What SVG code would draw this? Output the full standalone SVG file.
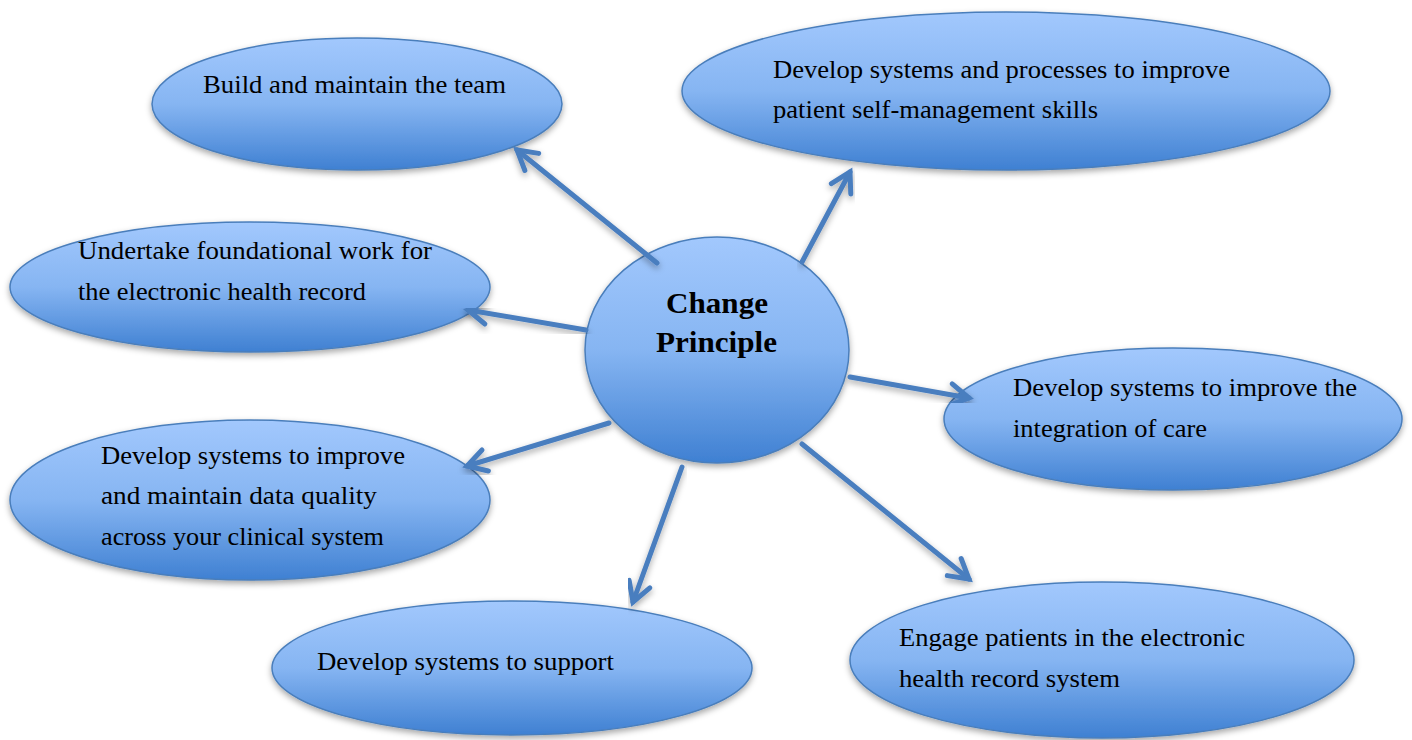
<svg xmlns="http://www.w3.org/2000/svg" width="1412" height="740" viewBox="0 0 1412 740">
<defs>
<linearGradient id="g" x1="0" y1="0" x2="0" y2="1">
<stop offset="0" stop-color="#A2C8FD"/>
<stop offset="0.5" stop-color="#86B5F2"/>
<stop offset="1" stop-color="#3F80D2"/>
</linearGradient>
<filter id="sh" x="-10%" y="-10%" width="120%" height="130%">
<feDropShadow dx="0" dy="3" stdDeviation="3" flood-color="#000" flood-opacity="0.35"/>
</filter>
<marker id="ah" markerUnits="userSpaceOnUse" markerWidth="30" markerHeight="30" viewBox="-4 -4 30 30" refX="20" refY="11" orient="auto">
<path d="M1,0 L20,11 L1,22" fill="none" stroke="#4A7EBF" stroke-width="5" stroke-linecap="round" stroke-linejoin="miter"/>
</marker>
</defs>
<style>
.n{fill:url(#g);stroke:#4A7EBB;stroke-width:1.5;filter:url(#sh)}
.t{font-family:"Liberation Serif","Times New Roman",serif;font-size:25px;fill:#000}
.b{font-family:"Liberation Serif","Times New Roman",serif;font-size:30px;font-weight:bold;fill:#000}
.c{stroke:#4A7EBF;stroke-width:5;fill:none;stroke-linecap:round;marker-end:url(#ah);filter:url(#sh)}
</style>
<rect width="1412" height="740" fill="#fff"/>
<g id="n1"><ellipse class="n" cx="357" cy="104" rx="205" ry="66"/>
<text class="t" x="203" y="93" textLength="303" lengthAdjust="spacingAndGlyphs">Build and maintain the team</text></g>
<g id="n2"><ellipse class="n" cx="1006" cy="91" rx="324" ry="79"/>
<text class="t" x="773" y="78" textLength="457" lengthAdjust="spacingAndGlyphs">Develop systems and processes to improve</text>
<text class="t" x="773" y="118" textLength="325" lengthAdjust="spacingAndGlyphs">patient self-management skills</text></g>
<g id="n3"><ellipse class="n" cx="250" cy="287" rx="240" ry="65"/>
<text class="t" x="78" y="259" textLength="354" lengthAdjust="spacingAndGlyphs">Undertake foundational work for</text>
<text class="t" x="78" y="300" textLength="288" lengthAdjust="spacingAndGlyphs">the electronic health record</text></g>
<g id="n5"><ellipse class="n" cx="1173" cy="419" rx="229" ry="71"/>
<text class="t" x="1013" y="396" textLength="344" lengthAdjust="spacingAndGlyphs">Develop systems to improve the</text>
<text class="t" x="1013" y="437" textLength="194" lengthAdjust="spacingAndGlyphs">integration of care</text></g>
<g id="n6"><ellipse class="n" cx="250" cy="500" rx="240" ry="80"/>
<text class="t" x="101" y="464" textLength="304" lengthAdjust="spacingAndGlyphs">Develop systems to improve</text>
<text class="t" x="101" y="504" textLength="276" lengthAdjust="spacingAndGlyphs">and maintain data quality</text>
<text class="t" x="101" y="545" textLength="283" lengthAdjust="spacingAndGlyphs">across your clinical system</text></g>
<g id="n7"><ellipse class="n" cx="512" cy="668" rx="240" ry="67"/>
<text class="t" x="317" y="670" textLength="297" lengthAdjust="spacingAndGlyphs">Develop systems to support</text></g>
<g id="n8"><ellipse class="n" cx="1102" cy="660" rx="252" ry="78"/>
<text class="t" x="899" y="646" textLength="346" lengthAdjust="spacingAndGlyphs">Engage patients in the electronic</text>
<text class="t" x="899" y="687" textLength="221" lengthAdjust="spacingAndGlyphs">health record system</text></g>
<g id="center"><ellipse class="n" cx="717" cy="350" rx="132" ry="113"/>
<text class="b" x="666" y="313" textLength="102" lengthAdjust="spacingAndGlyphs">Change</text>
<text class="b" x="656" y="352" textLength="121" lengthAdjust="spacingAndGlyphs">Principle</text></g>
<g id="connectors">
<line class="c" x1="657" y1="263" x2="517" y2="150"/>
<line class="c" x1="802" y1="262" x2="850" y2="172"/>
<line class="c" x1="586" y1="330" x2="468" y2="310"/>
<line class="c" x1="850" y1="377" x2="969" y2="398"/>
<line class="c" x1="609" y1="423" x2="467" y2="466"/>
<line class="c" x1="682" y1="467" x2="633" y2="602"/>
<line class="c" x1="802" y1="444" x2="969" y2="579"/>
</g>
</svg>
